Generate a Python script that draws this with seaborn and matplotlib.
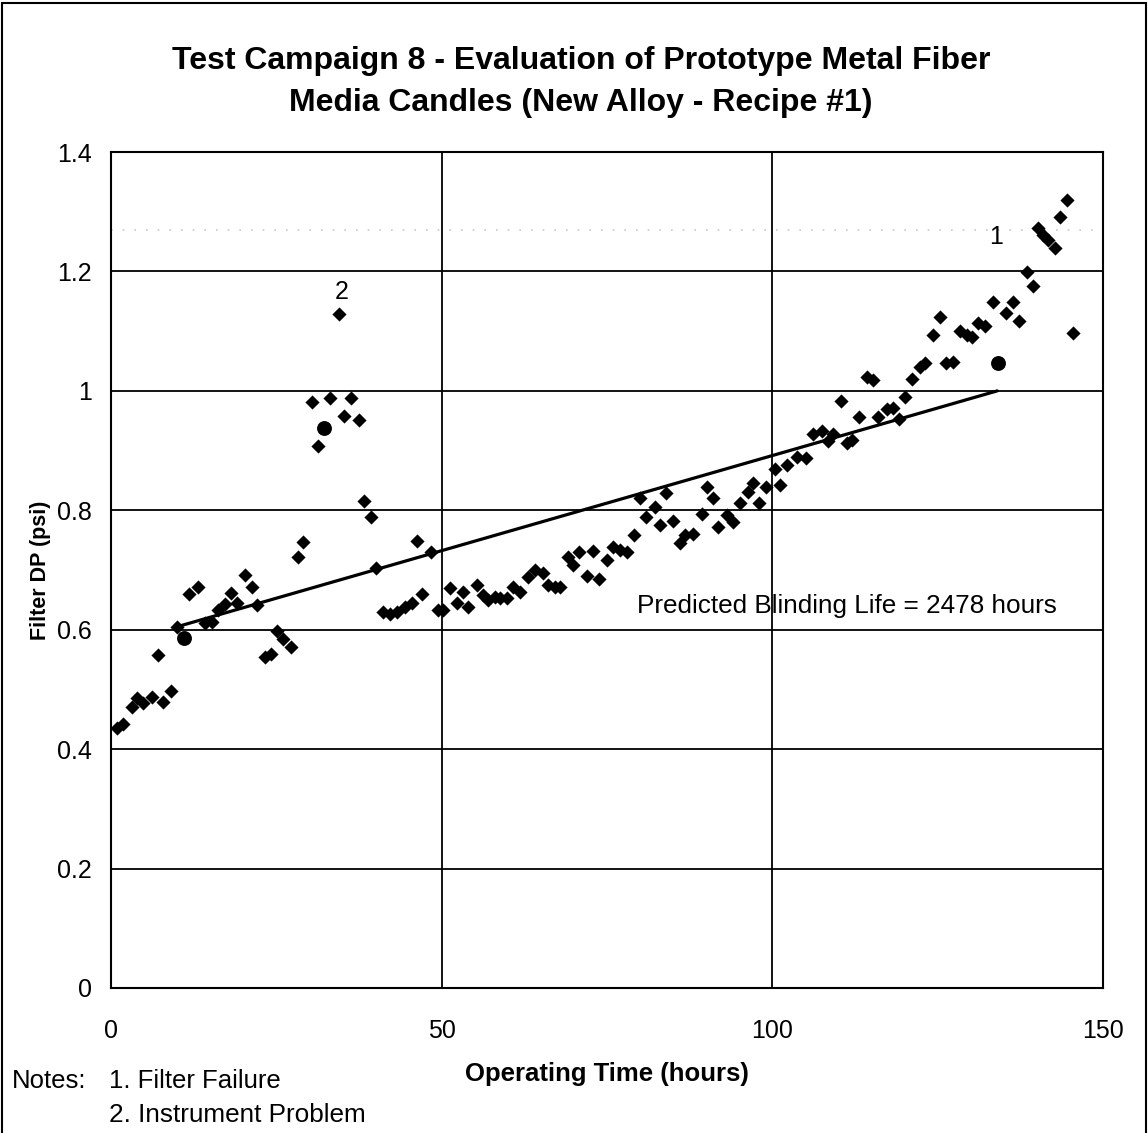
import matplotlib
matplotlib.use("Agg")
import matplotlib.pyplot as plt
import seaborn as sns
import pandas as pd
from matplotlib.ticker import FuncFormatter
from matplotlib.patches import Rectangle

# ---- data ----
time_hours = [0.9, 1.8, 3.2, 3.9, 4.8, 6.2, 7.1, 7.9, 9.1, 10.0, 11.8, 13.2, 14.2, 15.3,
              16.2, 17.2, 18.1, 19.1, 20.3, 21.3, 22.1, 23.3, 24.2, 25.1, 26.0, 27.2,
              28.3, 29.0, 30.4, 31.3, 33.1, 34.5, 35.2, 36.3, 37.5, 38.3, 39.3, 40.1,
              41.1, 42.2, 43.2, 44.5, 45.5, 46.3, 47.0, 48.4, 49.4, 50.2, 51.3, 52.3,
              53.2, 54.0, 55.3, 56.3, 57.0, 58.1, 58.8, 59.9, 60.8, 61.8, 63.1, 64.1,
              65.3, 66.1, 67.1, 67.9, 69.1, 69.9, 70.8, 72.0, 72.9, 73.8, 75.0, 75.9,
              77.0, 78.0, 79.1, 80.0, 80.9, 82.3, 83.0, 83.9, 85.0, 86.0, 86.8, 88.0,
              89.4, 90.1, 91.0, 91.8, 93.1, 94.1, 95.1, 96.3, 97.1, 98.0, 99.0, 100.4,
              101.2, 102.2, 103.7, 105.1, 106.2, 107.5, 108.4, 109.2, 110.4, 111.3,
              112.1, 113.1, 114.3, 115.2, 116.0, 117.3, 118.3, 119.2, 120.1, 121.1,
              122.3, 123.1, 124.3, 125.4, 126.3, 127.3, 128.4, 129.4, 130.2, 131.1,
              132.2, 133.4, 135.3, 136.4, 137.3, 138.5, 139.4, 140.2, 140.9, 141.7,
              142.7, 143.5, 144.6, 145.5]
filter_dp = [0.435, 0.442, 0.471, 0.486, 0.477, 0.487, 0.558, 0.479, 0.497, 0.605, 0.660,
             0.672, 0.611, 0.613, 0.633, 0.643, 0.662, 0.645, 0.692, 0.672, 0.641, 0.554,
             0.559, 0.598, 0.584, 0.571, 0.722, 0.747, 0.981, 0.908, 0.988, 1.129, 0.958,
             0.988, 0.951, 0.816, 0.789, 0.703, 0.630, 0.626, 0.630, 0.638, 0.645, 0.749,
             0.660, 0.730, 0.633, 0.633, 0.670, 0.645, 0.663, 0.638, 0.675, 0.658, 0.650,
             0.655, 0.653, 0.653, 0.672, 0.663, 0.688, 0.700, 0.695, 0.675, 0.672, 0.672,
             0.722, 0.708, 0.730, 0.690, 0.732, 0.685, 0.717, 0.739, 0.734, 0.730, 0.759,
             0.821, 0.789, 0.806, 0.775, 0.829, 0.782, 0.745, 0.759, 0.760, 0.794, 0.839,
             0.821, 0.772, 0.792, 0.780, 0.812, 0.831, 0.846, 0.812, 0.839, 0.869, 0.842,
             0.876, 0.889, 0.888, 0.928, 0.933, 0.916, 0.928, 0.983, 0.913, 0.918, 0.956,
             1.023, 1.018, 0.956, 0.970, 0.971, 0.953, 0.990, 1.020, 1.040, 1.047, 1.094,
             1.124, 1.047, 1.048, 1.100, 1.094, 1.090, 1.114, 1.109, 1.149, 1.130, 1.149,
             1.117, 1.199, 1.176, 1.273, 1.261, 1.253, 1.239, 1.291, 1.320, 1.097]

circle_hours = [11.0, 32.2, 134.1]
circle_dp = [0.586, 0.938, 1.047]

trend_hours = [10.0, 134.0]
trend_dp = [0.605, 1.000]

x_ticks = [0, 50, 100, 150]
y_ticks = [0, 0.2, 0.4, 0.6, 0.8, 1.0, 1.2, 1.4]

title = "Test Campaign 8 - Evaluation of Prototype Metal Fiber\nMedia Candles (New Alloy - Recipe #1)"
x_label = "Operating Time (hours)"
y_label = "Filter DP (psi)"
annotation_text = "Predicted Blinding Life = 2478 hours"
note_labels = [("2", 34.9, 1.165), ("1", 133.8, 1.258)]
notes_head = "Notes:"
notes_line1 = "1. Filter Failure"
notes_line2 = "2. Instrument Problem"

# ---- style ----
sns.set_style("white")
plt.rcParams["font.family"] = ["Liberation Sans", "DejaVu Sans"]
plt.rcParams["text.color"] = "black"
plt.rcParams["axes.labelcolor"] = "black"

fig = plt.figure(figsize=(11.48, 11.33), dpi=100)
ax = fig.add_axes([0.0967, 0.128, 0.8641, 0.7378])

df = pd.DataFrame({"t": time_hours, "dp": filter_dp})
dfc = pd.DataFrame({"t": circle_hours, "dp": circle_dp})
dft = pd.DataFrame({"t": trend_hours, "dp": trend_dp})

ax.axhline(1.27, color="#c8c8c8", lw=1.2, ls=(0, (1, 6)), zorder=1)

sns.lineplot(data=dft, x="t", y="dp", ax=ax, color="black", lw=2.3, zorder=3)
sns.scatterplot(data=df, x="t", y="dp", ax=ax, marker="D", s=52, color="black",
                linewidth=0, zorder=4)
sns.scatterplot(data=dfc, x="t", y="dp", ax=ax, marker="o", s=115, color="black",
                linewidth=0, zorder=4)

ax.set_xlim(0, 150)
ax.set_ylim(0, 1.4)
ax.set_xticks(x_ticks)
ax.set_yticks(y_ticks)
ax.yaxis.set_major_formatter(FuncFormatter(lambda v, p: f"{v:g}"))
ax.grid(True, color="black", lw=1.3)
ax.set_axisbelow(True)
for s in ax.spines.values():
    s.set_color("black")
    s.set_linewidth(1.5)
ax.tick_params(axis="both", direction="out", length=8, width=1.2, colors="black",
               labelsize=18)
ax.tick_params(axis="x", pad=14)
ax.tick_params(axis="y", pad=6)

ax.set_xlabel(x_label, fontsize=18.5, fontweight="bold", labelpad=14)
ax.set_ylabel(y_label, fontsize=15.5, fontweight="bold", labelpad=4)

for lab, xv, yv in note_labels:
    ax.text(xv, yv, lab, fontsize=18, ha="center", va="center")
ax.text(79.5, 0.64, annotation_text, fontsize=18.8, ha="left", va="center")

fig.text(0.506, 0.928, title, fontsize=23, fontweight="bold", ha="center",
         va="center", linespacing=1.52)
fig.text(0.0105, 0.046, notes_head, fontsize=18.5, ha="left", va="center")
fig.text(0.095, 0.046, notes_line1, fontsize=18.5, ha="left", va="center")
fig.text(0.095, 0.016, notes_line2, fontsize=18.8, ha="left", va="center")

fig.patches.append(Rectangle((0.002, -0.01), 0.996, 1.007, transform=fig.transFigure,
                             fill=False, edgecolor="black", lw=1.5))

fig.savefig("out.png", dpi=100)
